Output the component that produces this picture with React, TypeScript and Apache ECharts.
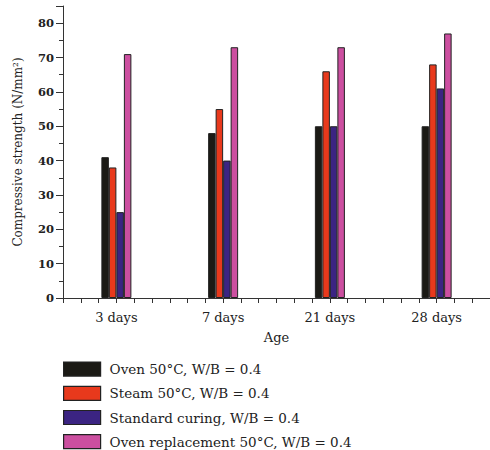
import React, { useEffect, useRef } from "react";
import * as echarts from "echarts";

const categories = ["3 days", "7 days", "21 days", "28 days"];
const seriesNames = [
  "Oven 50°C, W/B = 0.4",
  "Steam 50°C, W/B = 0.4",
  "Standard curing, W/B = 0.4",
  "Oven replacement 50°C, W/B = 0.4",
];
const ovenValues = [41, 48, 50, 50];
const steamValues = [38, 55, 66, 68];
const standardValues = [25, 40, 50, 61];
const replacementValues = [71, 73, 73, 77];
const colors = ["#1b1a15", "#e8391c", "#3b2482", "#cc4fa0"];
const yAxisTitle = "Compressive strength (N/mm²)";

const FONT = "'DejaVu Serif', 'Liberation Serif', serif";

export default function App() {
  const ref = useRef<HTMLDivElement>(null);
  useEffect(() => {
    if (!ref.current) return;
    const chart = echarts.init(ref.current, undefined, { renderer: "svg" });
    const allValues = [ovenValues, steamValues, standardValues, replacementValues];
    const gridRect = { left: 63, top: 6, width: 430, height: 292 };
    chart.setOption({
      animation: false,
      grid: [
        { ...gridRect, containLabel: false },
        { ...gridRect, containLabel: false },
      ],
      graphic: [
        {
          type: "text",
          x: 18,
          y: 152,
          rotation: Math.PI / 2,
          style: {
            text: yAxisTitle,
            fontFamily: FONT,
            fontSize: 12,
            fill: "#222",
            align: "center",
            verticalAlign: "middle",
          },
        },
      ],
      legend: {
        orient: "vertical",
        left: 63,
        top: 361.5,
        height: 100,
        padding: 0,
        itemWidth: 37,
        itemHeight: 14,
        itemGap: 9,
        icon: "rect",
        textStyle: {
          fontFamily: FONT,
          fontSize: 13.5,
          lineHeight: 14,
          color: "#222",
          padding: [0, 0, 0, 4],
        },
        itemStyle: { borderColor: "#222", borderWidth: 1.2 },
        data: seriesNames,
      },
      xAxis: [
        {
          type: "category",
          gridIndex: 0,
          data: categories,
          boundaryGap: true,
          axisLine: { show: true, lineStyle: { color: "#333", width: 1 } },
          axisTick: { show: false },
          axisLabel: { fontFamily: FONT, fontSize: 13, color: "#222", margin: 13 },
          name: "Age",
          nameLocation: "middle",
          nameGap: 33,
          nameTextStyle: { fontFamily: FONT, fontSize: 13, color: "#222" },
          splitLine: { show: false },
        },
        {
          type: "value",
          gridIndex: 1,
          min: 0,
          max: 24,
          interval: 1,
          axisLine: { show: false },
          axisTick: { show: true, length: 5, lineStyle: { color: "#333", width: 1 } },
          axisLabel: { show: false },
          splitLine: { show: false },
        },
      ],
      yAxis: [
        {
          type: "value",
          gridIndex: 0,
          min: 0,
          max: 85,
          interval: 10,
          axisLine: { show: true, lineStyle: { color: "#333", width: 1 } },
          axisTick: { show: true, length: 7, lineStyle: { color: "#333" } },
          minorTick: { show: true, splitNumber: 2, length: 4, lineStyle: { color: "#333" } },
          axisLabel: {
            fontFamily: FONT,
            fontSize: 11.5,
            fontWeight: "bold",
            color: "#222",
            margin: 9,
            showMaxLabel: false,
          },
          splitLine: { show: false },
        },
        {
          type: "value",
          gridIndex: 1,
          min: 0,
          max: 85,
          show: false,
        },
      ],
      series: seriesNames.map((name, i) => ({
        name,
        type: "bar",
        xAxisIndex: 0,
        yAxisIndex: 0,
        data: allValues[i],
        barWidth: 7.5,
        barGap: "0%",
        itemStyle: { color: colors[i], borderColor: "#222", borderWidth: 1 },
      })),
    });
    return () => chart.dispose();
  }, []);
  return (
    <div
      ref={ref}
      style={{ position: "fixed", left: 0, top: 0, width: 490, height: 450, background: "#fff" }}
    />
  );
}
